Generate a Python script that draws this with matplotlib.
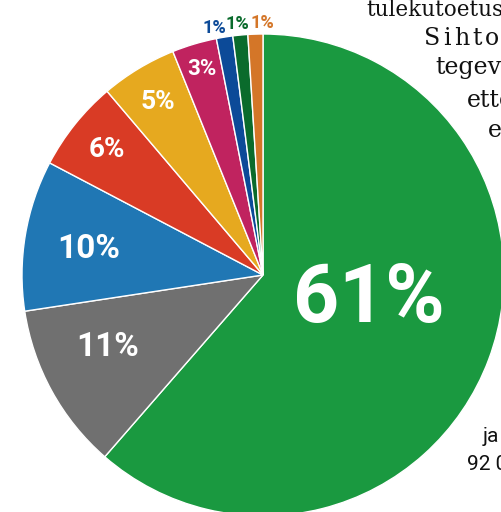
import numpy as np
import matplotlib
matplotlib.use("Agg")
import matplotlib.pyplot as plt

# slice data, clockwise from the top
labels = ["61%", "11%", "10%", "6%", "5%", "3%", "1%", "1%", "1%"]
values = [61.4, 11.2, 10.1, 6.1, 5.1, 3.0, 1.1, 1.0, 1.0]
colors = ["#1a9940", "#707070", "#2077b4", "#d93b25", "#e6a91f",
          "#c0235f", "#0c4a98", "#0a6b2c", "#d47628"]

# label layout: radius fraction, angle offset (deg), font size
label_r = [0.45, 0.71, 0.73, 0.83, 0.84, 0.89, 1.045, 1.045, 1.045]
label_off = [7, -4, 1, 0, 0, 0, 2, 0.5, -1.6]
label_size = [58, 24, 24, 20, 19, 16, 13, 13, 13]

side_lines = ["tulekutoetus", "Sihtotstarbeline", "tegevustoetus", "ettevõtlus", "eraisikud"]

fig = plt.figure(figsize=(5.02, 5.12), dpi=100)
ax = fig.add_axes([0, 0, 1, 1])

cx, cy, R = 263, 237, 241
wedges, _ = ax.pie(values, colors=colors, startangle=90, counterclock=False,
                   center=(cx, cy), radius=R,
                   wedgeprops=dict(edgecolor="white", linewidth=1))

for w, lab, rf, off, fs, col in zip(wedges, labels, label_r, label_off, label_size, colors):
    ang = np.deg2rad((w.theta1 + w.theta2) / 2 + off)
    x = cx + rf * R * np.cos(ang)
    y = cy + rf * R * np.sin(ang)
    tc = "white" if rf < 1 else col
    ax.text(x, y, lab, ha="center", va="center", color=tc, fontsize=fs,
            fontweight="bold", family="Roboto")

# text on the right, cut by the edge of the picture
ink = "#111111"
ax.text(366, 496, side_lines[0], fontsize=15.5, family="DejaVu Serif", color=ink)
for i, ch in enumerate(side_lines[1][:6]):
    ax.text(432 + i * 15, 467, ch, ha="center", fontsize=17,
            family="DejaVu Serif", color=ink)
ax.text(435, 438, side_lines[2], fontsize=17, family="DejaVu Serif", color=ink)
ax.text(467, 405, side_lines[3], fontsize=17, family="DejaVu Serif", color=ink)
ax.text(488, 375, side_lines[4], fontsize=17, family="DejaVu Serif", color=ink)
ax.text(483, 70, "ja", fontsize=15, family="Roboto", color=ink)
ax.text(467, 42, "92 000", fontsize=15, family="Roboto", color=ink)

ax.set_xlim(0, 502)
ax.set_ylim(0, 512)
ax.set_aspect("equal")
ax.axis("off")

fig.savefig("out.png", dpi=100)
